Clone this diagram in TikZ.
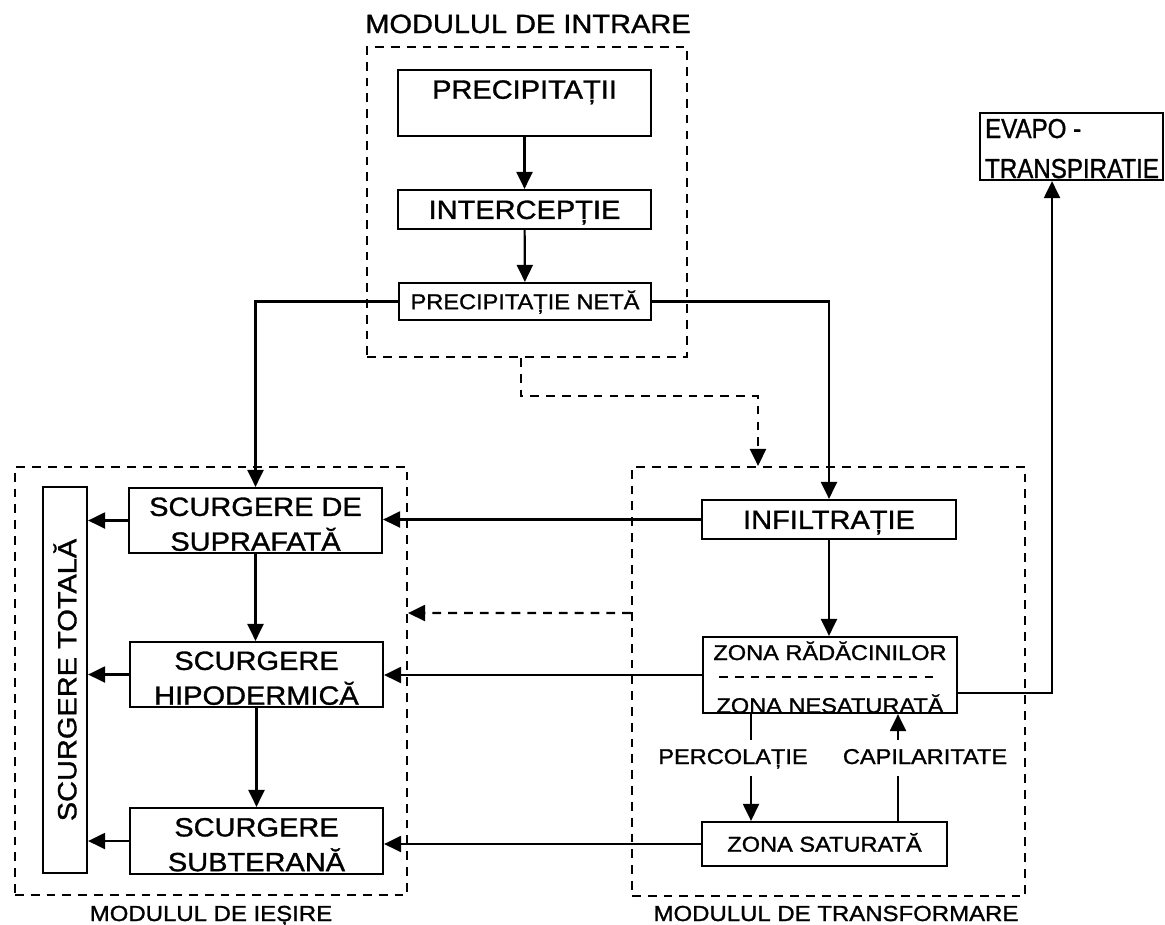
\documentclass[tikz,border=0pt]{standalone}
\usepackage{fontspec}
\setmainfont{Liberation Sans}[FakeStretch=1.1,FakeBold=1.2]
\newfontfamily\tallSans{Liberation Sans}[FakeStretch=0.88,FakeBold=1.2]
\usetikzlibrary{arrows.meta}

\newcommand{\lgTxt}{\fontsize{15}{19.8}\selectfont}
\newcommand{\smTxt}{\fontsize{12.2}{14.4}\selectfont}
\newcommand{\modTxt}{\fontsize{12.4}{14.6}\selectfont}
\newcommand{\padTop}{\rule{0pt}{0.516cm}}

\begin{document}
\begin{tikzpicture}[x=0.02cm,y=-0.02cm,line width=1.25pt,font=\lgTxt,
    box/.style={draw,inner sep=0pt,align=center},
    capBig/.style={text height=10.7pt,text depth=0pt},
    capSmall/.style={text height=8.7pt,text depth=0pt},
    module/.style={draw,dash pattern=on 5pt off 4pt,inner sep=0pt},
    flow/.style={-{Triangle[length=0.34cm,width=0.32cm]}},
    dflow/.style={flow,dash pattern=on 5pt off 4pt},
    gapLabel/.style={fill=white,font=\smTxt,inner xsep=1pt,inner ysep=0.2cm,text height=0.28cm,text depth=0.04cm}]
  \path[use as bounding box] (0,0) rectangle (1165,924);

  % modules
  \node[module,minimum width=6.4cm,minimum height=6.2cm] (intrare) at (527,202) {};
  \node[module,minimum width=7.84cm,minimum height=8.56cm] (iesire) at (211,681) {};
  \node[module,minimum width=7.86cm,minimum height=8.58cm] (transf) at (828.5,681.5) {};
  \node[anchor=base] (tIntrare) at (528,33) {MODULUL DE INTRARE};
  \node[anchor=base,font=\modTxt] (tIesire) at (211,921) {MODULUL DE IEȘIRE};
  \node[anchor=base,font=\modTxt] (tTransf) at (836,921) {MODULUL DE TRANSFORMARE};

  % input
  \node[box,minimum width=5.06cm,text height=0.574cm,text depth=0.746cm] (prec) at (524.5,103) {PRECIPITAȚII};
  \node[box,capBig,minimum width=5.06cm,minimum height=0.78cm] (icp) at (524.5,209.5) {INTERCEPȚIE};
  \node[box,capSmall,font=\smTxt,minimum width=5.04cm,minimum height=0.74cm] (net) at (525,301.5) {PRECIPITAȚIE NETĂ};

  % output
  \node[box,rotate=90,minimum width=7.72cm,minimum height=0.88cm] (total) at (65,680) {SCURGERE TOTALĂ};
  \node[box,minimum width=5.06cm,minimum height=1.3cm] (supr) at (255.5,520.5) {\padTop SCURGERE DE\\SUPRAFATĂ};
  \node[box,minimum width=5.06cm,minimum height=1.3cm] (hipo) at (256.5,674.5) {\padTop SCURGERE\\HIPODERMICĂ};
  \node[box,minimum width=5.06cm,minimum height=1.32cm] (subt) at (256.5,841) {\padTop SCURGERE\\SUBTERANĂ};

  % transformation
  \node[box,capBig,minimum width=5.08cm,minimum height=0.78cm] (inf) at (829,519.5) {INFILTRAȚIE};
  \node[box,minimum width=5.08cm,minimum height=1.52cm] (zona) at (830,675) {};
  \node[anchor=base,font=\smTxt] (zRad) at (830,660) {ZONA RĂDĂCINILOR};
  \node[anchor=base,font=\smTxt] (zNes) at (830,713) {ZONA NESATURATĂ};
  \draw[dash pattern=on 5pt off 4pt] ([xshift=0.34cm,yshift=-0.04cm]zona.west) -- ([xshift=-0.5cm,yshift=-0.04cm]zona.east);
  \node[box,capSmall,font=\smTxt,minimum width=4.9cm,minimum height=0.88cm] (sat) at (824.5,844) {ZONA SATURATĂ};

  % evapotranspiration
  \node[box,minimum width=3.66cm,minimum height=1.34cm] (evapo) at (1071.5,146.5) {};
  \node[anchor=base west,inner sep=0pt,font=\tallSans\fontsize{15.6}{18}\selectfont] (evapoA) at (984,138) {EVAPO -};
  \node[anchor=base west,inner sep=0pt,font=\tallSans\fontsize{15.6}{18}\selectfont] (evapoB) at (984,178) {TRANSPIRATIE};

  % connectors
  \draw[flow] (prec) -- (icp);
  \draw[flow] (icp) -- (net);
  \draw[flow] (net.west) -| (supr.north);
  \draw[flow] (net.east) -| (inf.north);
  \draw[dflow] ([xshift=-0.12cm]intrare.south) -- ++(0,38) -| ([xshift=-1.41cm]transf.north);
  \draw[dflow] ([yshift=1.37cm]transf.west) -- ([yshift=1.36cm]iesire.east);
  \draw[flow] (inf.west) -- (inf.west -| supr.east);
  \draw[flow] (zona.west) -- (zona.west -| hipo.east);
  \draw[flow] (sat.west) -- (sat.west -| subt.east);
  \draw[flow] (supr.south) -- (supr.south |- hipo.north);
  \draw[flow] (hipo.south) -- (hipo.south |- subt.north);
  \foreach \src in {supr,hipo,subt}
    \draw[flow] (\src.west) -- (\src.west -| total.south);
  \draw[flow] (inf.south) -- (inf.south |- zona.north);
  \draw[flow] ([xshift=-1.58cm]zona.south) -- ([xshift=-1.58cm]zona.south |- sat.north);
  \draw[flow] ([xshift=1.36cm]zona.south |- sat.north) -- ([xshift=1.36cm]zona.south);
  \draw[flow] ([yshift=-0.36cm]zona.east) -| ([xshift=-0.39cm]evapo.south);
  \node[gapLabel] (perc) at (733,758) {PERCOLAȚIE};
  \node[gapLabel] (capi) at (925,758) {CAPILARITATE};
\end{tikzpicture}
\end{document}
